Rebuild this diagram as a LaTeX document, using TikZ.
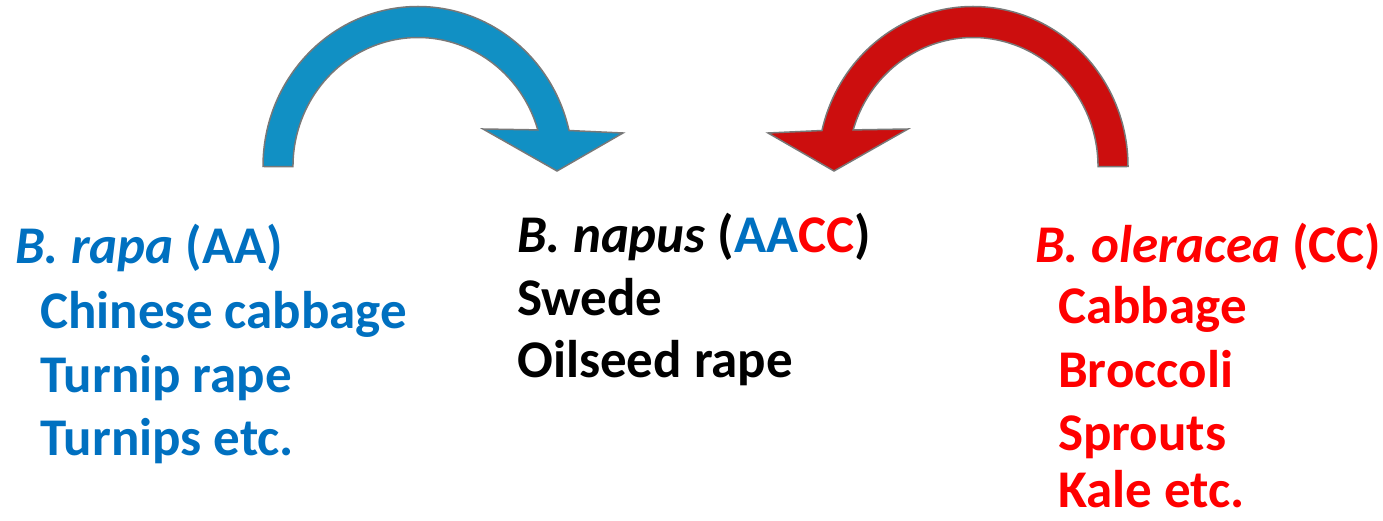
\documentclass[tikz,border=0pt]{standalone}
\usepackage{fontspec}
\setmainfont{Carlito}
\definecolor{arrblue}{RGB}{17,144,196}
\definecolor{arrred}{RGB}{204,14,14}
\definecolor{txtblue}{RGB}{0,112,192}
\definecolor{txtred}{RGB}{255,0,0}
\definecolor{edgegray}{RGB}{120,120,120}
\begin{document}
\begin{tikzpicture}[x=1pt,y=1pt,
  lbl/.style={anchor=base west,inner sep=0pt,font=\fontsize{53}{63}\selectfont\bfseries},
  bigarrow/.style={draw=edgegray,line width=1.5pt,line join=miter}]
\useasboundingbox (0,0) rectangle (1383,520);
% blue arrow
\path[bigarrow,fill=arrblue] (263,353.5) arc[start angle=180,end angle=13,x radius=155,y radius=160]
  -- (623,387) -- (557,349) -- (483,391) -- (537.8,390.1)
  arc[start angle=16.5,end angle=180,x radius=125,y radius=129] -- cycle;
% red arrow (mirror)
\path[bigarrow,fill=arrred] (1128,353.5) arc[start angle=0,end angle=167,x radius=155,y radius=160]
  -- (768,387) -- (834,349) -- (908,391) -- (853.2,390.1)
  arc[start angle=163.5,end angle=0,x radius=125,y radius=129] -- cycle;
% left block
\node[lbl,text=txtblue] (rapa) at (15,257) {\textit{B. rapa} (AA)};
\node[lbl,text=txtblue] (chin) at (40,192) {Chinese cabbage};
\node[lbl,text=txtblue] (turn) at (40,128) {Turnip rape};
\node[lbl,text=txtblue] (turns) at (40,65) {Turnips etc.};
% middle block
\node[lbl] (napus) at (517,268) {\textit{B. napus} (\textcolor{txtblue}{AA}\textcolor{txtred}{CC})};
\node[lbl] (swede) at (517,205) {Swede};
\node[lbl] (oil) at (517,143) {Oilseed rape};
% right block
\node[lbl,text=txtred] (oler) at (1035,258) {\textit{B. oleracea} (CC)};
\node[lbl,text=txtred] (cabb) at (1058,197) {Cabbage};
\node[lbl,text=txtred] (brocc) at (1058,133) {Broccoli};
\node[lbl,text=txtred] (sprout) at (1058,70) {Sprouts};
\node[lbl,text=txtred] (kale) at (1058,13) {Kale etc.};
\end{tikzpicture}
\end{document}
